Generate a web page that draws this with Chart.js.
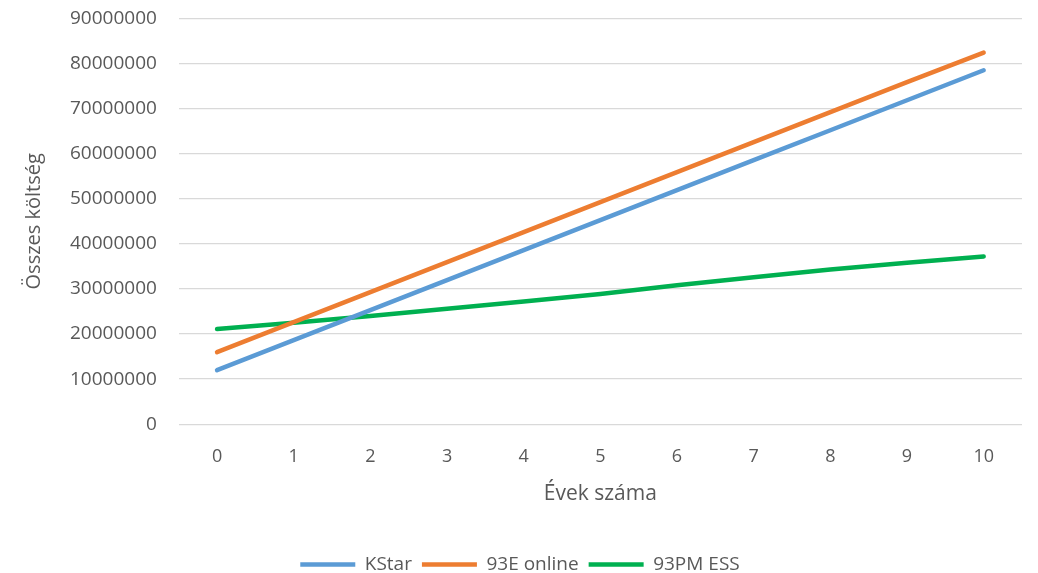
<!DOCTYPE html>
<html>
<head>
<meta charset="utf-8">
<script src="https://cdn.jsdelivr.net/npm/chart.js@4"></script>
<style>
html,body{margin:0;padding:0;background:#fff;}
#wrap{width:1038px;height:573px;position:relative;}
</style>
</head>
<body>
<div id="wrap"><canvas id="c" width="1038" height="573"></canvas></div>
<script>
const years = ['0','1','2','3','4','5','6','7','8','9','10'];
const kstar = [12000000, 18650000, 25300000, 31950000, 38600000, 45250000, 51900000, 58550000, 65200000, 71850000, 78500000];
const online93E = [16000000, 22650000, 29300000, 35950000, 42600000, 49250000, 55900000, 62550000, 69200000, 75850000, 82400000];
const ess93PM = [21100000, 22500000, 24000000, 25600000, 27200000, 28900000, 30800000, 32600000, 34300000, 35800000, 37200000];
const seriesNames = ['KStar', '93E online', '93PM ESS'];
const colors = ['#5B9BD5', '#ED7D31', '#00B050'];

const font = "'Open Sans', 'Liberation Sans', sans-serif";
const txt = '#595959';

new Chart(document.getElementById('c'), {
  type: 'line',
  data: {
    labels: years,
    datasets: [kstar, online93E, ess93PM].map((d, i) => ({
      label: seriesNames[i],
      data: d,
      borderColor: colors[i],
      backgroundColor: colors[i],
      borderWidth: 4.5,
      borderCapStyle: 'round',
      pointRadius: 0,
      pointHoverRadius: 0,
      tension: 0,
      fill: false
    }))
  },
  options: {
    responsive: false,
    animation: false,
    layout: { padding: { top: 0, right: 16, left: 18, bottom: -11 } },
    plugins: {
      legend: {
        position: 'bottom',
        labels: {
          usePointStyle: true,
          pointStyle: 'line',
          pointStyleWidth: 55,
          boxHeight: 5,
          color: txt,
          padding: 10,
          font: { family: font, size: 19 }
        }
      },
      tooltip: { enabled: false }
    },
    scales: {
      x: {
        offset: true,
        grid: { display: false, drawTicks: false },
        border: { display: false },
        ticks: { color: txt, font: { family: font, size: 18 }, padding: 22 },
        title: { display: true, text: 'Évek száma', color: txt, font: { family: font, size: 21 }, padding: { top: -8, bottom: 38 } }
      },
      y: {
        min: 0, max: 90000000,
        grid: { color: '#d9d9d9', lineWidth: 1.3, drawTicks: false },
        border: { display: false },
        ticks: { stepSize: 10000000, color: txt, font: { family: font, size: 19 }, padding: 7,
                 callback: v => String(v) + '   ' },
        title: { display: true, text: 'Összes költség', color: txt, font: { family: font, size: 20 }, padding: { bottom: 17 } }
      }
    }
  }
});
</script>
</body>
</html>
